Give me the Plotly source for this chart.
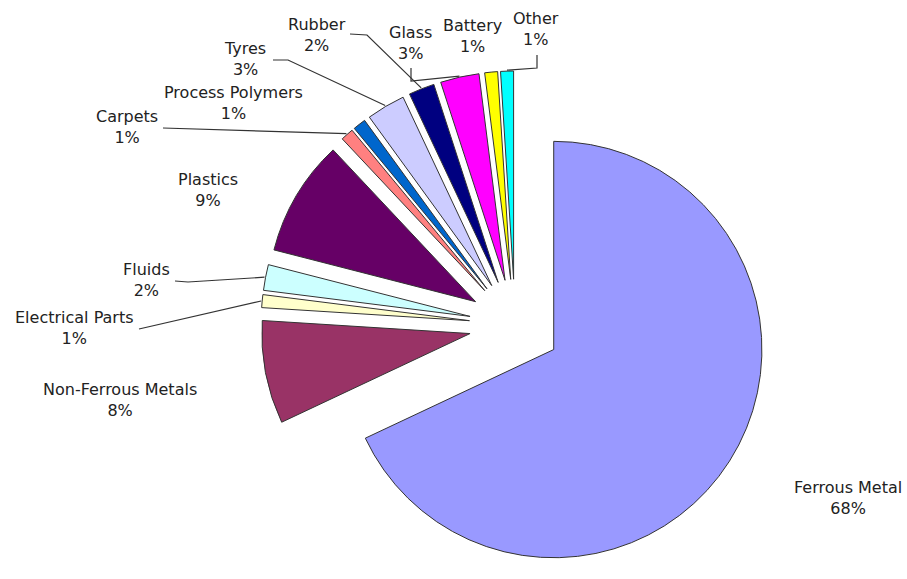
import numpy as np
import plotly.graph_objects as go

# ---- data ----
categories = ["Ferrous Metal", "Non-Ferrous Metals", "Electrical Parts", "Fluids",
              "Plastics", "Carpets", "Process Polymers", "Tyres", "Rubber",
              "Glass", "Battery", "Other"]
shares = [68, 8, 1, 2, 9, 1, 1, 3, 2, 3, 1, 1]

# ---- styles / layout ----
colors = ["#9999FF", "#993366", "#FFFFCC", "#CCFFFF", "#660066", "#FF8080",
          "#0066CC", "#CCCCFF", "#000080", "#FF00FF", "#FFFF00", "#00FFFF"]
W, H = 907, 579
PULL = 0.22
DOM_X = [0.25, 0.8857]
DOM_Y = [0.0, 0.8774]
FONT = dict(family="DejaVu Sans, Verdana, sans-serif", size=16, color="#222222")

# label block centres (pixels) and leader-line start points (pixels)
label_pos = {
    "Ferrous Metal": (848, 498), "Non-Ferrous Metals": (120, 400),
    "Electrical Parts": (74, 328), "Fluids": (146, 280), "Plastics": (208, 190),
    "Carpets": (127, 127), "Process Polymers": (233, 103), "Tyres": (245, 59),
    "Rubber": (317, 35), "Glass": (410, 43), "Battery": (473, 36), "Other": (536, 29),
}
leader_start = {
    "Carpets": [(163, 128)],
    "Tyres": [(273, 60), (288, 60)],
    "Rubber": [(350, 34), (367, 35)],
    "Glass": [(411, 68), (411, 81)],
    "Other": [(537, 55), (537, 68)],
    "Fluids": [(175, 281), (188, 282)],
    "Electrical Parts": [(139, 329)],
}

fig = go.Figure(go.Pie(
    labels=categories,
    values=shares,
    sort=False,
    direction="clockwise",
    rotation=0,
    pull=[PULL] * len(shares),
    automargin=False,
    marker=dict(colors=colors, line=dict(color="#333333", width=1)),
    textinfo="none",
    hoverinfo="label+percent",
    showlegend=False,
    domain=dict(x=DOM_X, y=DOM_Y),
))

def px2paper(x, y):
    return x / W, 1 - y / H

# pie geometry as plotly lays it out (for leader-line end points)
avail_h = H * (DOM_Y[1] - DOM_Y[0])
avail_w = W * (DOM_X[1] - DOM_X[0])
R = min(avail_w, avail_h) / 2 / (1 + PULL)
cx = W * (DOM_X[0] + DOM_X[1]) / 2
cy = H * (1 - DOM_Y[0]) - avail_h / 2
vals = np.array(shares, dtype=float)
mid = (np.cumsum(vals) - vals / 2) / vals.sum() * 2 * np.pi
rad = R * (1 + PULL) + 1

annotations = []
shapes = []
for i, (cat, v) in enumerate(zip(categories, shares)):
    lx, ly = label_pos[cat]
    ax, ay = px2paper(lx, ly)
    annotations.append(dict(
        x=ax, y=ay, xref="paper", yref="paper", xanchor="center", yanchor="middle",
        text=f"{cat}<br>{v}%", showarrow=False, font=FONT, align="center",
    ))
    if cat in leader_start:
        pts = list(leader_start[cat])
        pts.append((cx + rad * np.sin(mid[i]), cy - rad * np.cos(mid[i])))
        pp = [px2paper(x, y) for x, y in pts]
        path = "M " + " L ".join(f"{x:.5f},{y:.5f}" for x, y in pp)
        shapes.append(dict(type="path", path=path, xref="paper", yref="paper",
                           line=dict(color="#333333", width=1.2)))

fig.update_layout(
    width=W, height=H,
    margin=dict(l=0, r=0, t=0, b=0, autoexpand=False),
    paper_bgcolor="white",
    plot_bgcolor="white",
    annotations=annotations,
    shapes=shapes,
)

fig.write_html("out.html")
